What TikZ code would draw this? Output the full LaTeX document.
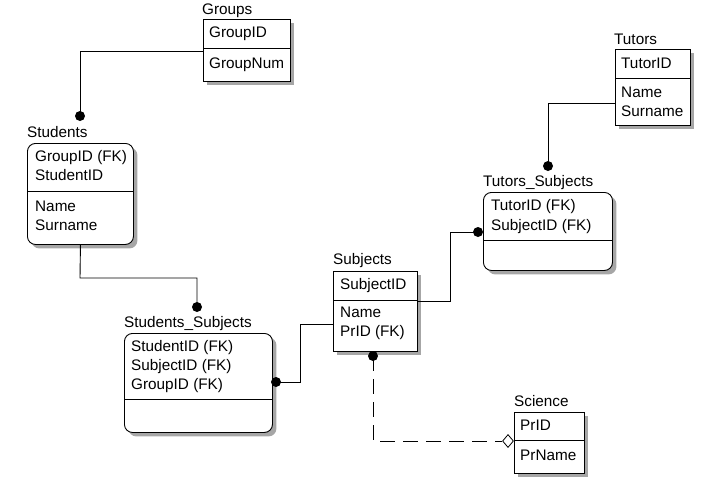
\documentclass[tikz,border=0pt]{standalone}
\usepackage{fontspec}
\setmainfont{Liberation Sans}
\usetikzlibrary{shadows,shapes.geometric}
\begin{document}
\begin{tikzpicture}[x=1pt,y=-1pt,
  ent/.style={draw, line width=0.9pt, fill=white, anchor=north west, inner sep=0pt,
    drop shadow={shadow xshift=4pt, shadow yshift=-4pt, fill=gray!70, opacity=1}},
  dep/.style={ent, rounded corners=8pt},
  txt/.style={anchor=west, inner sep=0pt, font=\fontsize{15.3}{18}\selectfont, text height=11pt, text depth=3pt},
  conn/.style={line width=0.9pt},
  fkdot/.style={circle, fill=black, inner sep=0pt, minimum size=10pt},
  opt/.style={diamond, draw, fill=white, line width=0.8pt, inner sep=0pt, minimum width=11pt, minimum height=13pt}]
\useasboundingbox (0,0) rectangle (719,485);

% entities
\node[ent, minimum width=87pt, minimum height=62pt] (groups) at (203,19) {};
\node[dep, minimum width=106pt, minimum height=101pt] (students) at (27,143) {};
\node[dep, minimum width=148pt, minimum height=99pt] (ss) at (124,333) {};
\node[ent, minimum width=84pt, minimum height=80pt] (subjects) at (333,271) {};
\node[dep, minimum width=129pt, minimum height=78pt] (ts) at (483,192) {};
\node[ent, minimum width=75pt, minimum height=76pt] (tutors) at (615,49) {};
\node[ent, minimum width=70pt, minimum height=61pt] (science) at (514,412) {};

% dividers
\draw[conn] (groups.west |- 0,48) -- (groups.east |- 0,48);
\draw[conn] (students.west |- 0,191) -- (students.east |- 0,191);
\draw[conn] (ss.west |- 0,399) -- (ss.east |- 0,399);
\draw[conn] (subjects.west |- 0,300) -- (subjects.east |- 0,300);
\draw[conn] (ts.west |- 0,240) -- (ts.east |- 0,240);
\draw[conn] (tutors.west |- 0,78) -- (tutors.east |- 0,78);
\draw[conn] (science.west |- 0,440) -- (science.east |- 0,440);

% titles
\node[txt] (tgroups) at (202,10) {Groups};
\node[txt] (tstudents) at (27,133) {Students};
\node[txt] (tss) at (124,323) {Students\_Subjects};
\node[txt] (tsubjects) at (333,260) {Subjects};
\node[txt] (tts) at (483,182) {Tutors\_Subjects};
\node[txt] (ttutors) at (614,40) {Tutors};
\node[txt] (tscience) at (514,402) {Science};

% attributes
\node[txt] (g1) at (209,33) {GroupID};
\node[txt] (g2) at (209,64) {GroupNum};
\node[txt] (s1) at (35,157) {GroupID (FK)};
\node[txt] (s2) at (35,176) {StudentID};
\node[txt] (s3) at (35,207) {Name};
\node[txt] (s4) at (35,226) {Surname};
\node[txt] (ss1) at (131,347) {StudentID (FK)};
\node[txt] (ss2) at (131,366) {SubjectID (FK)};
\node[txt] (ss3) at (131,385) {GroupID (FK)};
\node[txt] (sb1) at (340,285) {SubjectID};
\node[txt] (sb2) at (340,313) {Name};
\node[txt] (sb3) at (340,332) {PrID (FK)};
\node[txt] (ts1) at (491,206) {TutorID (FK)};
\node[txt] (ts2) at (491,226) {SubjectID (FK)};
\node[txt] (tu1) at (621,64) {TutorID};
\node[txt] (tu2) at (621,93) {Name};
\node[txt] (tu3) at (621,112) {Surname};
\node[txt] (sc1) at (520,426) {PrID};
\node[txt] (sc2) at (520,456) {PrName};

% connector end points
\node[fkdot] (d1) at (80,116) {};
\node[fkdot] (d2) at (197,307) {};
\node[fkdot] (d3) at (276,382) {};
\node[fkdot] (d4) at (478,232) {};
\node[fkdot] (d5) at (548,166) {};
\node[fkdot] (d6) at (373,356) {};
\node[opt] (dm) at (508,441) {};

% connectors
\draw[conn] (groups.west |- 0,51) -| (d1.center);
\draw[conn] (students.south) -- (80,278) -| (d2.center);
\draw[conn] (d3.center) -- (300,382) |- (subjects.west |- 0,324);
\draw[conn] (subjects.east |- 0,301) -- (450,301) |- (d4.center);
\draw[conn] (d5.center) |- (tutors.west |- 0,103);
\draw[conn, dash pattern=on 15pt off 8pt] (d6.center) |- (dm.west);
\end{tikzpicture}
\end{document}
